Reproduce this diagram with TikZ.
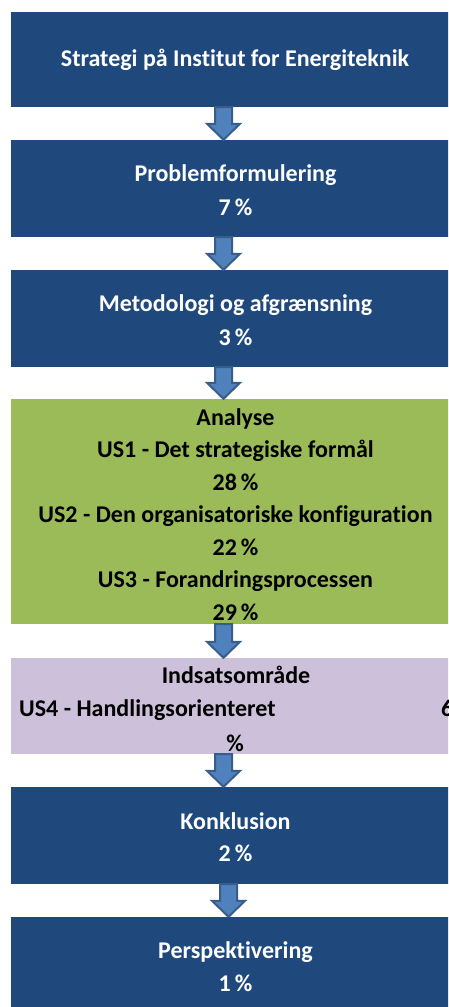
\documentclass[tikz,border=0pt]{standalone}
\usepackage{fontspec}
\setmainfont{Carlito}[Ligatures=NoCommon]
\usetikzlibrary{calc}
\definecolor{boxblue}{HTML}{1F497D}
\definecolor{boxgreen}{HTML}{9BBB59}
\definecolor{boxpurple}{HTML}{CCC0DA}
\definecolor{arrfill}{HTML}{4F81BD}
\definecolor{arrline}{HTML}{385D8A}
\tikzset{
  stagebox/.style={rectangle, draw=none, minimum width=449pt, inner sep=0pt},
  bluebox/.style={stagebox, fill=boxblue},
  greenbox/.style={stagebox, fill=boxgreen},
  purplebox/.style={stagebox, fill=boxpurple},
  stagetext/.style={inner sep=0pt, align=center, font=\fontsize{24}{34}\selectfont\bfseries},
  bluetext/.style={stagetext, text=white},
  darktext/.style={stagetext, text=black},
  blockarr/.style={fill=arrfill, draw=arrline, line width=2pt, line join=miter},
}
\newcommand\stagearrow[3]{%
  \draw[blockarr] let \p1=([xshift=#3]#1.south), \p2=(#2.north) in
    (\x1-8.5pt,\y1) -- (\x1+8.5pt,\y1) -- (\x1+8.5pt,\y2+16pt) -- (\x1+16.5pt,\y2+16pt)
    -- (\x1,\y2) -- (\x1-16.5pt,\y2+16pt) -- (\x1-8.5pt,\y2+16pt) -- cycle;}
\begin{document}
\begin{tikzpicture}[x=1pt,y=-1pt]
\useasboundingbox (0,0) rectangle (448,1007);
\clip (0,0) rectangle (448,1007);
% boxes
\node[bluebox, minimum height=95pt] (b1) at (235.5,59.5) {};
\node[bluebox, minimum height=97pt] (b2) at (235.5,188.5) {};
\node[bluebox, minimum height=97pt] (b3) at (235.5,318.5) {};
\node[greenbox, minimum height=225pt] (g) at (235.5,511.5) {};
\node[purplebox, minimum height=96pt] (p) at (235.5,706) {};
\node[bluebox, minimum height=97pt] (b5) at (235.5,835.5) {};
\node[bluebox, minimum height=97pt] (b6) at (235.5,965.5) {};
% texts
\node[bluetext] (b1t) at (235,60) {Strategi på Institut for Energiteknik};
\node[bluetext] (b2t) at (235.5,190) {Problemformulering\\7\,\%};
\node[bluetext] (b3t) at (235.5,320) {Metodologi og afgrænsning\\3\,\%};
\node[darktext, font=\fontsize{24}{32.5}\selectfont\bfseries] (gt) at (235.5,514.5)
  {Analyse\\US1 - Det strategiske formål\\28\,\%\\US2 - Den organisatoriske konfiguration\\22\,\%\\US3 - Forandringsprocessen\\29\,\%};
\node[darktext, anchor=base] (ptitle) at (236,683) {Indsatsområde};
\node[darktext, anchor=base west] (pus4) at (19,716) {US4 - Handlingsorienteret};
\node[darktext, anchor=base west] (psix) at (441,716) {6};
\node[darktext, anchor=base] (ppct) at (235,751) {\%};
\node[bluetext, font=\fontsize{24}{32}\selectfont\bfseries] (b5t) at (235.5,837) {Konklusion\\2\,\%};
\node[bluetext, font=\fontsize{24}{33}\selectfont\bfseries] (b6t) at (235.5,966.5) {Perspektivering\\1\,\%};
% arrows
\stagearrow{b1}{b2}{-12pt}
\stagearrow{b2}{b3}{-12pt}
\stagearrow{b3}{g}{-12pt}
\stagearrow{g}{p}{-12pt}
\stagearrow{p}{b5}{-12pt}
\stagearrow{b5}{b6}{-7pt}
\end{tikzpicture}
\end{document}
